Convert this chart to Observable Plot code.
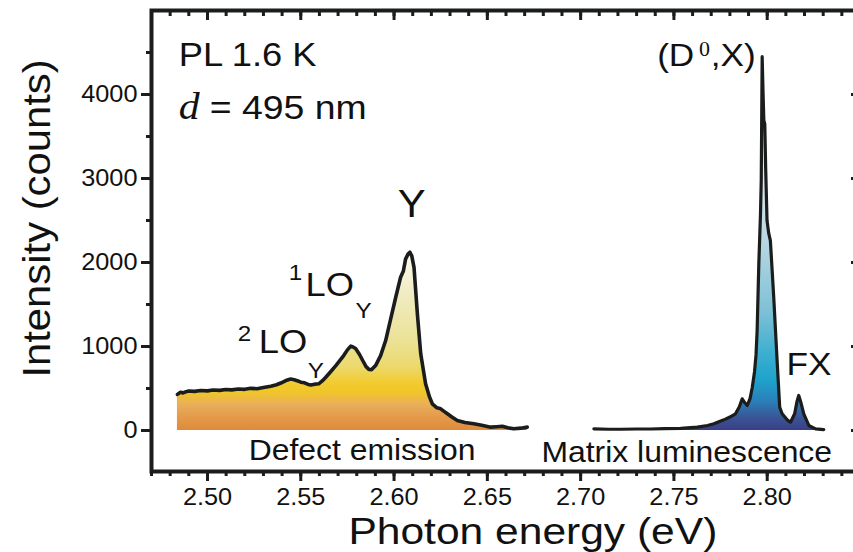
<!DOCTYPE html>
<html><head><meta charset="utf-8">
<script src="https://cdn.jsdelivr.net/npm/d3@7"></script>
<script src="https://cdn.jsdelivr.net/npm/@observablehq/plot@0.6"></script>
<style>body{margin:0;background:#fff;overflow:hidden}</style>
</head><body><div id="chart"></div>
<script>
// Defect emission spectrum (eV, counts)
const defectEnergy = [2.4839,2.4855,2.4870,2.4885,2.4900,2.4930,2.4964,2.5000,2.5030,2.5065,2.5098,2.5130,2.5165,2.5200,2.5232,2.5265,2.5300,2.5339,2.5370,2.5393,2.5420,2.5446,2.5465,2.5485,2.5500,2.5520,2.5540,2.5554,2.5575,2.5596,2.5615,2.5634,2.5660,2.5688,2.5710,2.5730,2.5750,2.5768,2.5780,2.5794,2.5815,2.5832,2.5850,2.5865,2.5880,2.5901,2.5928,2.5955,2.5982,2.6009,2.6035,2.6050,2.6062,2.6075,2.6085,2.6095,2.6107,2.6125,2.6143,2.6169,2.6190,2.6205,2.6230,2.6250,2.6270,2.6286,2.6310,2.6339,2.6380,2.6428,2.6470,2.6518,2.6550,2.6580,2.6610,2.6642,2.6680,2.6714];
const defectCounts = [430,455,448,462,470,466,476,472,482,478,488,484,495,490,502,498,512,528,545,565,595,612,605,590,575,568,548,542,552,556,590,634,700,773,835,892,960,1005,995,976,905,833,760,728,725,773,892,1071,1329,1586,1824,1900,2043,2100,2122,2080,1943,1389,913,556,400,318,270,258,225,199,160,119,95,80,62,40,45,51,32,20,28,40];
// Matrix luminescence spectrum (eV, counts)
const matrixEnergy = [2.7071,2.7150,2.7214,2.7300,2.7375,2.7450,2.7536,2.7625,2.7680,2.7714,2.7768,2.7800,2.7830,2.7850,2.7866,2.7880,2.7893,2.7908,2.7920,2.7932,2.7940,2.7946,2.7955,2.7964,2.7968,2.7973,2.7978,2.7982,2.7987,2.7992,2.7999,2.8008,2.8017,2.8035,2.8053,2.8067,2.8080,2.8107,2.8125,2.8147,2.8160,2.8169,2.8181,2.8196,2.8223,2.8259,2.8303];
const matrixCounts = [20,15,15,18,18,22,25,40,60,80,127,160,199,280,377,330,298,380,515,700,900,1190,1984,2579,2975,4450,4000,3690,3650,3100,2500,2350,2260,1586,833,277,199,127,99,200,350,417,330,199,60,20,10];

const xMajorTicks = [2.50,2.55,2.60,2.65,2.70,2.75,2.80];
const xMinorTicks = d3.range(247, 285).map(d => d / 100);
const yMajorTicks = [0,1000,2000,3000,4000];
const yMinorTicks = [500,1500,2500,3500,4500];

const defect = defectEnergy.map((e, i) => ({e, c: defectCounts[i]}));
const matrix = matrixEnergy.map((e, i) => ({e, c: matrixCounts[i]}));

const ink = "#1b1d1c";
const sans = "Liberation Sans, Arial, sans-serif";
const serif = "Liberation Serif, Times New Roman, serif";
const txt = (t, x, y, o = {}) => Plot.text([t], {x: () => x, y: () => y, text: d => d, textAnchor: "start", lineAnchor: "bottom", fill: "#111", fontFamily: sans, ...o});

const chart = Plot.plot({
  width: 853, height: 552,
  marginLeft: 151, marginRight: -7, marginTop: 10, marginBottom: 81,
  style: {fontFamily: sans, background: "white", color: ink},
  x: {domain: [2.47, 2.85]},
  y: {domain: [-488, 5000]},
  marks: [
    Plot.areaY(defect, {x: "e", y: "c", fill: "url(#gradDefect)"}),
    Plot.areaY(matrix, {x: "e", y: "c", fill: "url(#gradMatrix)"}),
    Plot.line(defect, {x: "e", y: "c", stroke: ink, strokeWidth: 3.6, strokeLinejoin: "round"}),
    Plot.line(matrix, {x: "e", y: "c", stroke: ink, strokeWidth: 3.2, strokeLinejoin: "round"}),
    Plot.frame({stroke: ink, strokeWidth: 4}),
    Plot.axisX({anchor: "bottom", ticks: xMinorTicks, tickSize: 5, fill: "none", stroke: ink, strokeWidth: 3, label: null}),
    Plot.axisX({anchor: "bottom", ticks: xMajorTicks, tickSize: 10, tickPadding: 7, tickFormat: d3.format(".2f"), fontSize: 23, stroke: ink, fill: "#111", strokeWidth: 3, label: null}),
    Plot.axisX({anchor: "top", ticks: xMinorTicks, tickSize: 5, dy: 5, fill: "none", stroke: ink, strokeWidth: 3, label: null}),
    Plot.axisX({anchor: "top", ticks: xMajorTicks, tickSize: 9, dy: 9, fill: "none", stroke: ink, strokeWidth: 3, label: null}),
    Plot.axisY({anchor: "left", ticks: yMinorTicks, tickSize: 5, fill: "none", stroke: ink, strokeWidth: 3, label: null}),
    Plot.axisY({anchor: "left", ticks: yMajorTicks, tickSize: 10, tickPadding: 4, tickFormat: d => String(d), fontSize: 23, stroke: ink, fill: "#111", strokeWidth: 3, label: null}),
    Plot.axisY({anchor: "right", ticks: yMajorTicks, tickSize: 10, dx: -10, fill: "none", stroke: ink, strokeWidth: 3, label: null}),
    // annotations
    txt("PL 1.6 K", 2.4846, 4345, {fontSize: 33}),
    txt("d", 2.4846, 3714, {fontSize: 38, fontFamily: serif, fontStyle: "italic"}),
    txt("= 495 nm", 2.5012, 3714, {fontSize: 34}),
    txt("Y", 2.6095, 2536, {fontSize: 38, textAnchor: "middle"}),
    txt("1", 2.5435, 1786, {fontSize: 22}),
    txt("LO", 2.5526, 1607, {fontSize: 33}),
    txt("Y", 2.5794, 1345, {fontSize: 22}),
    txt("2", 2.5162, 1071, {fontSize: 22}),
    txt("LO", 2.5275, 917, {fontSize: 33}),
    txt("Y", 2.5538, 631, {fontSize: 22}),
    txt("(D", 2.7410, 4345, {fontSize: 32}),
    txt("0", 2.7635, 4464, {fontSize: 20, fontFamily: serif}),
    txt(",X)", 2.7697, 4345, {fontSize: 32}),
    txt("FX", 2.8103, 655, {fontSize: 32}),
    txt("Defect emission", 2.5221, -357, {fontSize: 29}),
    txt("Matrix luminescence", 2.6790, -369, {fontSize: 29}),
    txt("Photon energy (eV)", 2.6744, -1352, {fontSize: 37, textAnchor: "middle"}),
    txt("Intensity (counts)", 2.4155, 2524, {fontSize: 38, textAnchor: "middle", rotate: -90})
  ]
});

// gradients in the y scale's pixel space
const ys = chart.scale("y");
const svg = d3.select(chart);
const defs = svg.insert("defs", ":first-child");
function grad(id, stops, top) {
  const g = defs.append("linearGradient").attr("id", id).attr("gradientUnits", "userSpaceOnUse")
    .attr("x1", 0).attr("x2", 0).attr("y1", ys.apply(0)).attr("y2", ys.apply(top));
  for (const [v, c] of stops) g.append("stop").attr("offset", v / top).attr("stop-color", c);
}
grad("gradDefect", [[0,"#df8b3a"],[150,"#e39a4a"],[300,"#e9ae5a"],[450,"#f1c52a"],[560,"#f2cb2e"],[750,"#ecd96c"],[1100,"#ebe39a"],[1600,"#f0ebc0"],[2150,"#fdfbf2"]], 2150);
grad("gradMatrix", [[0,"#3b3e86"],[150,"#3a5596"],[350,"#2a80b8"],[600,"#1ea3cc"],[900,"#3aaed0"],[1400,"#7dc0d6"],[2200,"#b5d6e2"],[3000,"#dde9ee"],[4450,"#f6f9fa"]], 4450);

// slightly wide lettering as in the original figure
svg.selectAll("text").each(function () {
  const t = this.getAttribute("transform");
  const k = this.textContent === "Photon energy (eV)" ? 1.15 : 1.1;
  if (t) this.setAttribute("transform", t + ` scale(${k},1)`);
});
document.getElementById("chart").append(chart);
</script>
</body></html>
